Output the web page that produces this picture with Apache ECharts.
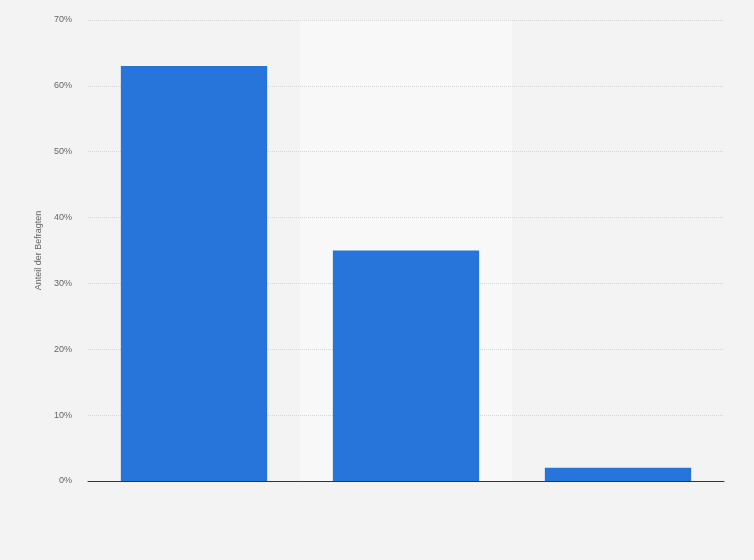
<!DOCTYPE html>
<html style="height: 100%">
<head>
  <meta charset="utf-8">
  <script src="https://cdn.jsdelivr.net/npm/echarts@6/dist/echarts.min.js"></script>
</head>
<body style="height: 100%; margin: 0; background: #f3f3f3">
  <div id="container" style="width: 754px; height: 560px"></div>
  <script type="text/javascript">
    // Kategorien sind im Original nicht beschriftet
    var categories = ['1', '2', '3'];
    var values = [63, 35, 2];
    var yTicks = [0, 10, 20, 30, 40, 50, 60, 70];

    var myChart = echarts.init(document.getElementById('container'));

    var option = {
      backgroundColor: '#f3f3f3',
      animation: false,
      grid: { left: 88, right: 30, top: 20, bottom: 79 },
      xAxis: {
        type: 'category',
        data: categories,
        z: 0,
        axisLine: { lineStyle: { color: '#333', width: 1 } },
        axisTick: { show: false },
        axisLabel: { show: false },
        splitArea: {
          show: true,
          areaStyle: { color: ['rgba(0,0,0,0)', '#f8f8f8'] }
        }
      },
      yAxis: {
        type: 'value',
        z: 1,
        min: yTicks[0],
        max: yTicks[yTicks.length - 1],
        interval: 10,
        name: 'Anteil der Befragten',
        nameLocation: 'middle',
        nameGap: 43,
        nameTextStyle: { color: '#666', fontSize: 9, fontFamily: 'Arial, Liberation Sans' },
        axisLine: { show: false },
        axisTick: { show: false },
        axisLabel: {
          color: '#666',
          fontSize: 9,
          fontFamily: 'Arial, Liberation Sans',
          margin: 16,
          formatter: '{value}%'
        },
        splitLine: {
          showMinLine: false,
          lineStyle: { color: '#d6d6d6', type: 'dotted' }
        }
      },
      series: [{
        type: 'bar',
        data: values,
        barWidth: '69%',
        itemStyle: { color: '#2775db' }
      }]
    };
    myChart.setOption(option);
  </script>
</body>
</html>
